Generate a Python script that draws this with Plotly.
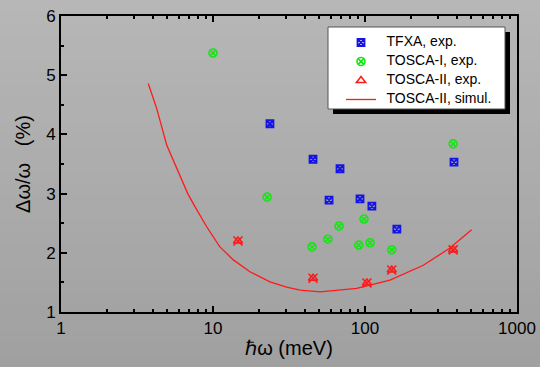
import plotly.graph_objects as go

# ---- data ----
tfxa_x = [23.7, 45.5, 68.5, 58, 92.7, 111, 162, 385]
tfxa_y = [4.18, 3.58, 3.42, 2.89, 2.91, 2.79, 2.40, 3.53]

tosca1_x = [10, 22.7, 44.8, 57, 67.5, 98.5, 91, 108, 150, 380]
tosca1_y = [5.375, 2.94, 2.10, 2.23, 2.45, 2.57, 2.13, 2.17, 2.05, 3.84]

tosca2_x = [14.6, 45.5, 103, 150, 380]
tosca2_y = [2.20, 1.57, 1.49, 1.71, 2.05]

sim_x = [3.75, 4.26, 4.96, 5.77, 6.82, 7.61, 9.09, 11.1, 13.6, 17.5, 23.7, 30.5, 37.4, 50.6, 88.2, 146, 242, 362, 503]
sim_y = [4.86, 4.44, 3.82, 3.43, 3.00, 2.78, 2.44, 2.10, 1.88, 1.68, 1.51, 1.42, 1.37, 1.34, 1.40, 1.54, 1.79, 2.08, 2.39]

series_names = ["TFXA, exp.", "TOSCA-I, exp.", "TOSCA-II, exp.", "TOSCA-II, simul."]

x_ticks = [1, 10, 100, 1000]
x_ticklabels = ["1", "10", "100", "1000"]
y_ticks = [1, 2, 3, 4, 5, 6]

W, H = 540, 367
L, R, T, B = 61, 23, 16, 55
pw, ph = W - L - R, H - T - B

def px2paper_x(px):
    return (px - L) / pw

def px2paper_y(py):
    return (H - B - py) / ph

def legend_label(s):
    return "\u00a0\u00a0<span style='font-size:14px'>%s</span>" % s

BLUE = "#1414e6"
GREEN = "#14e614"
RED = "#ff1a1a"

fig = go.Figure()

fig.add_trace(go.Scatter(x=tfxa_x, y=tfxa_y, mode="markers", name=legend_label(series_names[0]),
                         marker=dict(symbol="square-x-open", size=7, color=BLUE,
                                     line=dict(width=1.8, color=BLUE))))
fig.add_trace(go.Scatter(x=tosca1_x, y=tosca1_y, mode="markers", name=legend_label(series_names[1]),
                         marker=dict(symbol="circle-x-open", size=8, color=GREEN,
                                     line=dict(width=1.6, color=GREEN))))
fig.add_trace(go.Scatter(x=tosca2_x, y=tosca2_y, mode="markers", name=legend_label(series_names[2]),
                         legendgroup="t2",
                         marker=dict(symbol="triangle-up-open", size=8, color=RED,
                                     line=dict(width=1.6, color=RED))))
fig.add_trace(go.Scatter(x=tosca2_x, y=tosca2_y, mode="markers", showlegend=False,
                         legendgroup="t2", name=series_names[2],
                         marker=dict(symbol="x-thin-open", size=9, color=RED,
                                     line=dict(width=1.6, color=RED))))
fig.add_trace(go.Scatter(x=sim_x, y=sim_y, mode="lines", name=legend_label(series_names[3]),
                         line=dict(color=RED, width=1.3)))

# background gradient bands
shapes = []
n = 30
top_c = (183, 183, 183)
bot_c = (160, 160, 160)
for i in range(n):
    y0px = H * i / n
    y1px = H * (i + 1) / n
    f = (i + 0.5) / n
    c = tuple(int(round(top_c[k] + (bot_c[k] - top_c[k]) * f)) for k in range(3))
    shapes.append(dict(type="rect", xref="paper", yref="paper", layer="below",
                       x0=px2paper_x(0), x1=px2paper_x(W),
                       y0=px2paper_y(y1px) - 0.002, y1=px2paper_y(y0px) + 0.002,
                       line=dict(width=0), fillcolor="rgb(%d,%d,%d)" % c))
# legend shadow + box
shapes.append(dict(type="rect", xref="paper", yref="paper", layer="above",
                   x0=px2paper_x(333), x1=px2paper_x(510),
                   y0=px2paper_y(114), y1=px2paper_y(32),
                   line=dict(width=0), fillcolor="black"))
shapes.append(dict(type="rect", xref="paper", yref="paper", layer="above",
                   x0=px2paper_x(328), x1=px2paper_x(505),
                   y0=px2paper_y(109), y1=px2paper_y(27),
                   line=dict(width=1, color="#555555"), fillcolor="white"))

minor_vals = [m * 10 ** d for d in range(3) for m in range(2, 10)]

fig.update_layout(
    width=W, height=H,
    margin=dict(l=L, r=R, t=T, b=B, autoexpand=False),
    paper_bgcolor="#b0b0b0",
    plot_bgcolor="rgba(0,0,0,0)",
    font=dict(family="Liberation Sans, Arial", color="black"),
    shapes=shapes,
    showlegend=True,
    legend=dict(x=px2paper_x(341), y=px2paper_y(28), xanchor="left", yanchor="top",
                bgcolor="rgba(0,0,0,0)", borderwidth=0,
                font=dict(size=10, family="Liberation Sans, Arial", color="black"),
                itemwidth=30, tracegroupgap=0),
    xaxis=dict(type="log", range=[0, 3], tickvals=x_ticks, ticktext=x_ticklabels,
               ticks="inside", ticklen=6, tickwidth=2, tickcolor="black",
               showline=True, linewidth=2, linecolor="black", mirror="ticks",
               showgrid=False, zeroline=False, automargin=False,
               tickfont=dict(size=17),
               minor=dict(tickvals=minor_vals, ticks="inside", ticklen=3, tickwidth=2,
                          tickcolor="black", showgrid=False),
               title=dict(text="ℏω (meV)", font=dict(size=20), standoff=4)),
    yaxis=dict(range=[1, 6], tickvals=y_ticks,
               ticks="inside", ticklen=6, tickwidth=2, tickcolor="black",
               showline=True, linewidth=2, linecolor="black", mirror=True,
               showgrid=False, zeroline=False, automargin=False,
               tickfont=dict(size=17),
               minor=dict(dtick=0.5, ticks="inside", ticklen=3, tickwidth=2,
                          tickcolor="black", showgrid=False),
               title=dict(text="Δω/ω   (%)", font=dict(size=20), standoff=10)),
)

fig.write_html("out.html")
